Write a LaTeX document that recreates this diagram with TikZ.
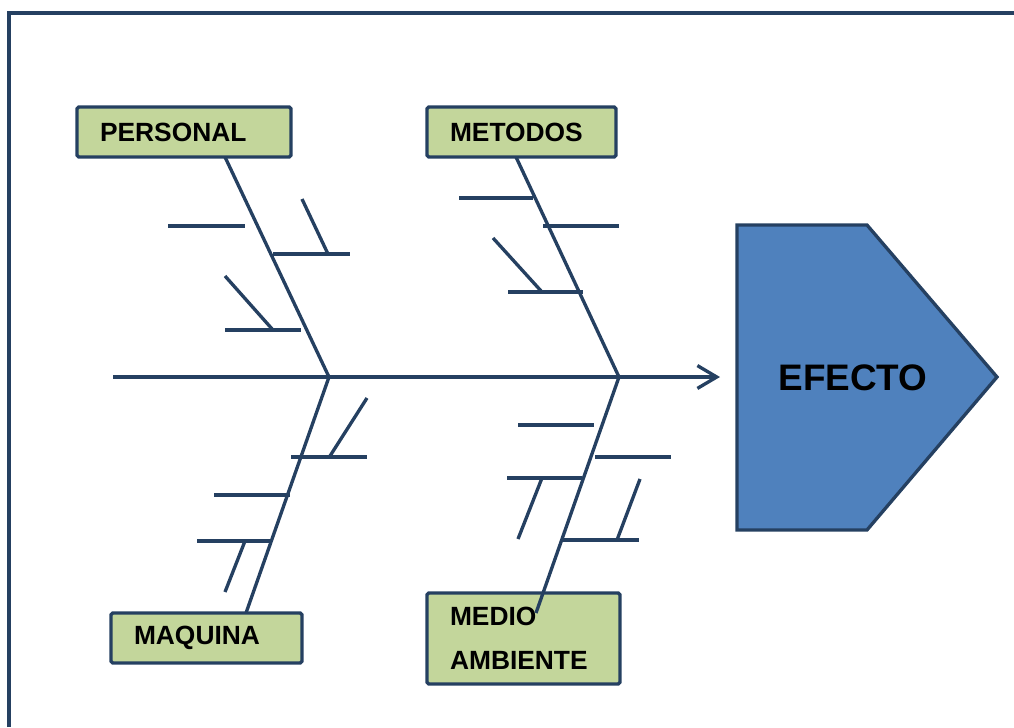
\documentclass[tikz,border=0pt]{standalone}
\usepackage{fontspec}
\setmainfont{Liberation Sans}
\usetikzlibrary{arrows.meta}
\definecolor{navy}{RGB}{37,64,97}
\definecolor{boxgreen}{RGB}{195,214,155}
\definecolor{efectoblue}{RGB}{79,129,189}

\begin{document}
\begin{tikzpicture}[x=0.02cm,y=-0.02cm,
  bone/.style={draw=navy,line width=1.9pt},
  causa/.style={draw=navy,line width=1.9pt,fill=boxgreen,rounded corners=1pt,
    inner xsep=0.46cm,inner ysep=0pt,minimum height=1cm,align=left,
    font=\bfseries\fontsize{15}{25}\selectfont}]
\useasboundingbox (0,0) rectangle (1014,727);

% marco
\draw[navy,line width=2pt] (9,727) -- (9,13) -- (1014,13);

\coordinate (tail) at (113,377);
\coordinate (head) at (720,377);
\coordinate (J1) at (329,377);
\coordinate (J2) at (619,377);
\coordinate (P) at (225,157);
\coordinate (M) at (516,157);
\coordinate (Q) at (246,613);
\coordinate (A) at (536,613);

\node[causa,text width=3.36cm] (personal) at (184,132) {PERSONAL};
\node[causa,text width=2.86cm] (metodos) at (521.5,132) {METODOS};
\node[causa,text width=2.90cm] (maquina) at (206.5,638) {MAQUINA};
\node[causa,text width=2.94cm,minimum height=1.82cm] (medio) at (523.5,638.5) {MEDIO\\AMBIENTE};

% efecto
\draw[navy,line width=1.9pt,fill=efectoblue]
  (737,225) -- (867,225) -- (997,377) -- (867,530) -- (737,530) -- cycle;
\node[font=\bfseries\fontsize{21}{25}\selectfont] (efecto) at (853,378) {EFECTO};

% espina y huesos
\draw[bone,-{Straight Barb[length=11pt,width=13pt]}] (tail) -- (head);
\draw[bone] (P) -- (J1) -- (Q);
\draw[bone] (M) -- (J2) -- (A);

\foreach \xa/\ya/\xb/\yb in {168/226/245/226, 273/254/350/254, 302/199/328/254,
    225/276/273/330, 225/330/301/330,
    367/398/330/456, 291/457/367/457, 214/495/290/495, 197/541/272/541, 245/541/225/592,
    459/198/533/198, 543/226/619/226, 493/238/542/292, 508/292/583/292,
    518/425/594/425, 595/457/671/457, 507/478/582/478, 542/478/518/539,
    640/479/617/540, 563/540/639/540}
  \draw[bone] (\xa,\ya) -- (\xb,\yb);
\end{tikzpicture}
\end{document}
